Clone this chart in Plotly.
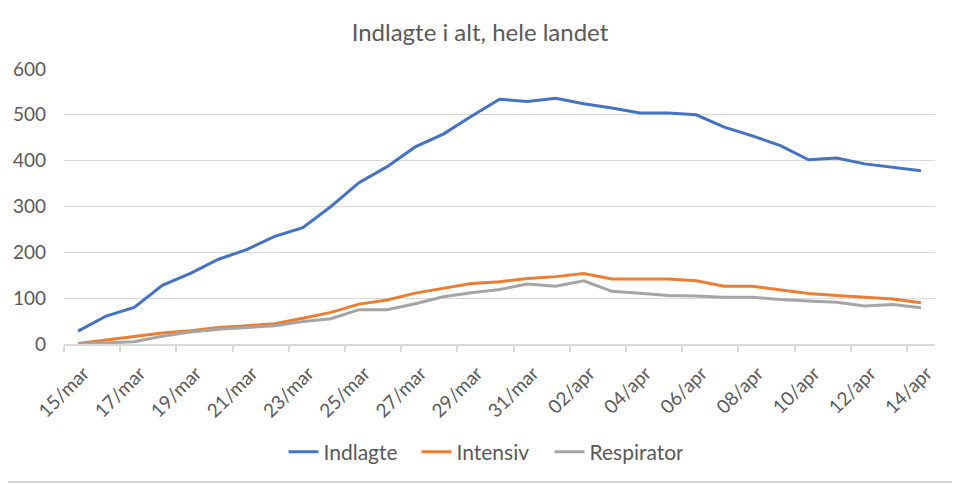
import plotly.graph_objects as go

dates = ["15/mar", "16/mar", "17/mar", "18/mar", "19/mar", "20/mar", "21/mar", "22/mar",
         "23/mar", "24/mar", "25/mar", "26/mar", "27/mar", "28/mar", "29/mar", "30/mar",
         "31/mar", "01/apr", "02/apr", "03/apr", "04/apr", "05/apr", "06/apr", "07/apr",
         "08/apr", "09/apr", "10/apr", "11/apr", "12/apr", "13/apr", "14/apr"]

indlagte = [28, 61, 80, 128, 154, 185, 206, 235, 254, 300, 352, 387, 430, 458, 497, 534,
            529, 536, 524, 515, 504, 504, 500, 473, 454, 433, 402, 406, 393, 386, 378]
intensiv = [1, 9, 17, 24, 29, 36, 40, 44, 56, 69, 87, 96, 111, 122, 132, 136,
            143, 147, 154, 142, 142, 142, 138, 126, 126, 118, 110, 106, 102, 98, 90]
respirator = [0, 2, 5, 17, 26, 32, 36, 40, 49, 55, 75, 75, 88, 103, 112, 119,
              131, 126, 138, 115, 111, 106, 105, 102, 102, 97, 94, 91, 83, 86, 79]

series_names = ["Indlagte", "Intensiv", "Respirator"]
series_colors = ["#4472C4", "#ED7D31", "#A5A5A5"]
y_ticks = [0, 100, 200, 300, 400, 500, 600]

# page has an 8px body margin; figure sized to fit inside the 960x485 window
OFF = 8
W, H = 960 - OFF, 485 - OFF
L, T = 64 - OFF, 69 - OFF
R = W - (935 - OFF)
B = H - (344 - OFF)

idx = list(range(len(dates)))
fig = go.Figure()
for name, vals, col in zip(series_names, [indlagte, intensiv, respirator], series_colors):
    fig.add_trace(go.Scatter(x=idx, y=vals, mode="lines", name=name,
                             line=dict(color=col, width=3)))

tick_idx = idx[::2]
LABEL_NUDGE = 0.2  # Excel draws rotated labels slightly right of the category
pw = W - L - R
ph = H - T - B
bottom_px = T + ph
fig.add_shape(type="rect", xref="paper", yref="paper",
              x0=((2 - OFF) - L) / pw, x1=((956 - OFF) - L) / pw,
              y0=(bottom_px - (482 - OFF)) / ph, y1=(bottom_px - (1 - OFF)) / ph,
              line=dict(color="#D9D9D9", width=2), fillcolor="rgba(0,0,0,0)", layer="below")

fig.update_layout(
    width=W, height=H,
    margin=dict(l=L, r=R, t=T, b=B, autoexpand=False),
    paper_bgcolor="white", plot_bgcolor="white",
    font=dict(family="Lato", color="#595959"),
    title=dict(text="Indlagte i alt, hele landet", x=(480 - OFF) / W, xref="container",
               xanchor="center", y=1 - (33 - OFF) / H, yref="container", yanchor="middle",
               font=dict(size=24, color="#595959", family="Lato")),
    showlegend=True,
    legend=dict(orientation="h", xref="container", yref="container", x=(483 - OFF) / W,
                xanchor="center", y=1 - (452 - OFF) / H, yanchor="middle",
                font=dict(size=21, color="#595959"), itemwidth=30, tracegroupgap=0,
                entrywidth=88, entrywidthmode="pixels"),
    xaxis=dict(range=[-0.5, len(dates) - 0.5], tickmode="array",
               tickvals=[i + LABEL_NUDGE for i in tick_idx],
               ticktext=[dates[i] for i in tick_idx], tickangle=-45, ticks="",
               showgrid=False, zeroline=False, showline=True, linecolor="#D9D9D9", linewidth=1.5,
               tickfont=dict(size=19, color="#595959"), ticklabelstandoff=9, automargin=False,
               minor=dict(tickmode="array", tickvals=[i - 0.5 for i in tick_idx],
                          ticks="outside", ticklen=6, tickcolor="#D9D9D9", tickwidth=1.5,
                          showgrid=False)),
    yaxis=dict(range=[0, 600], tickmode="array", tickvals=y_ticks, ticks="",
               showgrid=True, gridcolor="#D9D9D9", gridwidth=1.3, zeroline=False, showline=False,
               tickfont=dict(size=19, color="#595959"), ticklabelstandoff=17, automargin=False),
)

fig.write_html("out.html")
